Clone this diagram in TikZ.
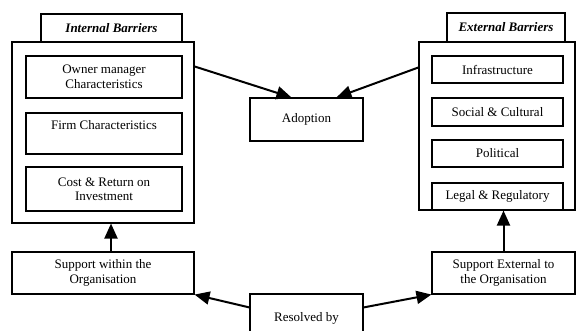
\documentclass[tikz,border=0pt]{standalone}
\usepackage{fontspec}
\setmainfont{Liberation Serif}
\usetikzlibrary{arrows.meta,calc}
\tikzset{box/.style={draw,line width=1.1pt,align=center,inner sep=0pt,font=\fontsize{13}{14.5}\selectfont}, heading/.style={box,font=\fontsize{13}{14.5}\selectfont\bfseries\itshape}, ibox/.style={box,minimum width=156pt}, ebox/.style={box,minimum width=131pt,minimum height=27pt}, link/.style={line width=2pt,-{Triangle[length=15pt,width=13pt]}}}

\begin{document}
\begin{tikzpicture}[x=1pt,y=-1pt]
\clip (0,0) rectangle (576,331);
% internal barriers
\node[box,minimum width=182pt,minimum height=181pt] (inner) at (103,132.5) {};
\node[heading,minimum width=141pt,minimum height=28pt] (ilabel) at (111.5,28) {Internal Barriers};
\node[ibox,minimum height=42pt] (owner) at (104,77) {Owner manager\\Characteristics};
\node[ibox,minimum height=41pt] (firm) at (104,133.5) {Firm Characteristics\\[2pt]~};
\node[ibox,minimum height=44pt] (cost) at (104,189) {Cost \& Return on\\Investment};
% external barriers
\node[box,minimum width=156pt,minimum height=168pt] (outer) at (497,126) {};
\node[heading,minimum width=118pt,minimum height=29pt] (elabel) at (506,27.5) {External Barriers};
\node[ebox] (infra) at (497.5,69.5) {Infrastructure};
\node[ebox,minimum height=28pt] (social) at (497.5,112) {Social \& Cultural};
\node[ebox] (political) at (497.5,153.5) {Political};
\node[ebox] (legal) at (497.5,196.5) {Legal \& Regulatory};
% middle and support
\node[box,minimum width=113pt,minimum height=43pt] (adopt) at (306.5,119.5) {Adoption};
\node[box,minimum width=182pt,minimum height=42pt] (swithin) at (103,273) {Support within the\\Organisation};
\node[box,minimum width=143pt,minimum height=42pt] (sext) at (503.5,273) {Support External to\\the Organisation};
\node[box,minimum width=113pt,minimum height=48pt] (resolved) at (306.5,318) {Resolved by};
\draw[link] ($(inner.north east)+(0,25)$) -- ($(adopt.north west)+(42,0)$);
\draw[link] ($(outer.north west)+(0,26)$) -- ($(adopt.north west)+(87,0)$);
\draw[link] ($(swithin.north)+(8,0)$) -- ($(inner.south)+(8,0)$);
\draw[link] (sext.north) -- (sext.north |- outer.south);
\draw[link] ($(resolved.north west)+(0,14)$) -- (swithin.south east);
\draw[link] ($(resolved.north east)+(0,14)$) -- (sext.south west);
\end{tikzpicture}
\end{document}
